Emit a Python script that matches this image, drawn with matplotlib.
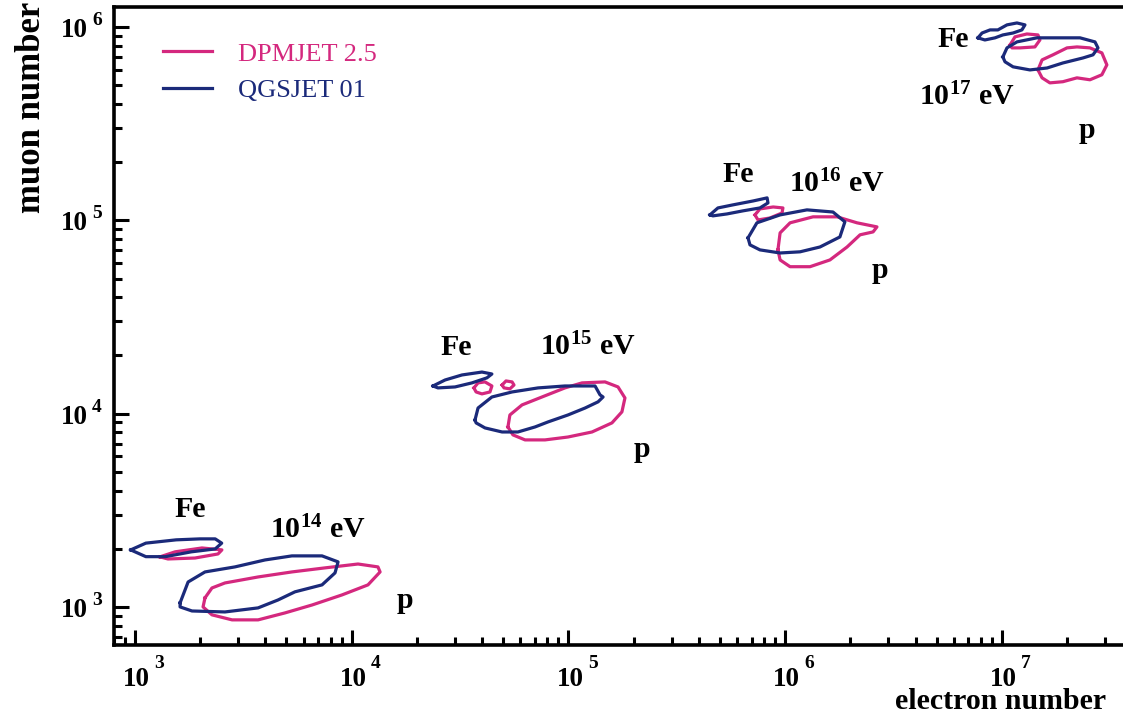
import numpy as np
import matplotlib
matplotlib.use("Agg")
import matplotlib.pyplot as plt
from matplotlib.ticker import LogLocator, NullFormatter

plt.rcParams['font.family'] = ['Liberation Serif', 'DejaVu Serif']
plt.rcParams['mathtext.fontset'] = 'custom'
plt.rcParams['mathtext.rm'] = 'Liberation Serif:bold'
plt.rcParams['mathtext.bf'] = 'Liberation Serif:bold'
plt.rcParams['mathtext.default'] = 'rm'

PINK = "#d4287e"
BLUE = "#1b2a7a"

# contour outlines, log10(electron number) / log10(muon number)
# --- 10^14 eV
qgs_fe14_x = [2.98, 3.05, 3.19, 3.30, 3.37, 3.40, 3.37, 3.26, 3.14, 3.05]
qgs_fe14_y = [3.295, 3.33, 3.347, 3.352, 3.352, 3.33, 3.30, 3.285, 3.26, 3.26]
dpm_fe14_x = [3.115, 3.185, 3.309, 3.401, 3.383, 3.277, 3.152]
dpm_fe14_y = [3.259, 3.285, 3.305, 3.295, 3.274, 3.253, 3.248]
qgs_p14_x = [3.208, 3.245, 3.323, 3.461, 3.600, 3.724, 3.863, 3.937, 3.923, 3.863,
             3.738, 3.660, 3.568, 3.415, 3.263, 3.208]
qgs_p14_y = [3.021, 3.129, 3.181, 3.207, 3.243, 3.264, 3.264, 3.233, 3.176, 3.114,
             3.078, 3.036, 2.995, 2.974, 2.979, 3.0]
dpm_p14_x = [3.323, 3.355, 3.415, 3.568, 3.724, 3.877, 4.029, 4.121, 4.131, 4.075,
             3.955, 3.817, 3.692, 3.568, 3.448, 3.355, 3.314]
dpm_p14_y = [3.047, 3.098, 3.124, 3.155, 3.181, 3.202, 3.222, 3.207, 3.181, 3.114,
             3.062, 3.010, 2.969, 2.933, 2.933, 2.959, 3.0]
# --- 10^15 eV
qgs_fe15_x = [4.375, 4.431, 4.509, 4.601, 4.647, 4.624, 4.555, 4.477, 4.398]
qgs_fe15_y = [4.143, 4.174, 4.200, 4.215, 4.205, 4.185, 4.159, 4.138, 4.133]
dpm_fe15a_x = [4.564, 4.583, 4.615, 4.647, 4.638, 4.601, 4.574]
dpm_fe15a_y = [4.133, 4.159, 4.164, 4.143, 4.112, 4.102, 4.112]
dpm_fe15b_x = [4.694, 4.712, 4.740, 4.749, 4.730, 4.703]
dpm_fe15b_y = [4.148, 4.169, 4.164, 4.148, 4.128, 4.133]
qgs_p15_x = [4.569, 4.583, 4.647, 4.740, 4.860, 4.984, 5.123, 5.146, 5.160, 5.137,
             5.077, 4.998, 4.906, 4.846, 4.767, 4.694, 4.615, 4.574]
qgs_p15_y = [3.967, 4.029, 4.086, 4.112, 4.133, 4.143, 4.143, 4.097, 4.086, 4.061,
             4.029, 3.993, 3.957, 3.931, 3.905, 3.905, 3.926, 3.952]
dpm_p15_x = [4.721, 4.730, 4.786, 4.878, 4.984, 5.063, 5.169, 5.229, 5.261, 5.247,
             5.201, 5.109, 4.998, 4.892, 4.800, 4.744]
dpm_p15_y = [3.931, 3.993, 4.045, 4.086, 4.133, 4.159, 4.164, 4.138, 4.081, 4.009,
             3.952, 3.905, 3.879, 3.864, 3.864, 3.890]
# --- 10^16 eV
qgs_fe16_x = [5.653, 5.690, 5.760, 5.852, 5.917, 5.921, 5.884, 5.806, 5.732, 5.667]
qgs_fe16_y = [5.028, 5.064, 5.080, 5.100, 5.116, 5.090, 5.064, 5.049, 5.033, 5.023]
dpm_fe16_x = [5.861, 5.884, 5.945, 5.990, 5.986, 5.930, 5.875]
dpm_fe16_y = [5.028, 5.059, 5.069, 5.064, 5.038, 5.012, 5.002]
qgs_p16_x = [5.829, 5.870, 5.977, 6.101, 6.221, 6.276, 6.253, 6.161, 6.069, 5.977,
             5.884, 5.838]
qgs_p16_y = [4.909, 4.987, 5.028, 5.054, 5.043, 4.992, 4.914, 4.862, 4.837, 4.831,
             4.847, 4.873]
dpm_p16_x = [5.967, 5.977, 6.023, 6.129, 6.240, 6.332, 6.424, 6.406, 6.346, 6.286,
             6.207, 6.115, 6.023, 5.977]
dpm_p16_y = [4.847, 4.935, 4.987, 5.018, 5.018, 4.987, 4.966, 4.940, 4.925, 4.862,
             4.795, 4.760, 4.760, 4.795]
# --- 10^17 eV
qgs_fe17_x = [6.890, 6.909, 6.946, 6.982, 7.024, 7.070, 7.107, 7.093, 7.052, 7.005,
              6.969, 6.922]
qgs_fe17_y = [5.944, 5.969, 5.985, 5.985, 6.011, 6.021, 6.011, 5.985, 5.969, 5.959,
              5.944, 5.933]
dpm_fe17_x = [7.038, 7.061, 7.116, 7.167, 7.176, 7.153, 7.084, 7.047]
dpm_fe17_y = [5.907, 5.949, 5.964, 5.959, 5.933, 5.897, 5.892, 5.892]
qgs_p17_x = [7.005, 7.024, 7.070, 7.162, 7.255, 7.361, 7.430, 7.444, 7.421, 7.375,
             7.282, 7.209, 7.130, 7.052, 7.015]
qgs_p17_y = [5.845, 5.892, 5.923, 5.944, 5.944, 5.944, 5.923, 5.892, 5.856, 5.840,
             5.814, 5.788, 5.778, 5.794, 5.820]
dpm_p17_x = [7.167, 7.186, 7.236, 7.301, 7.347, 7.407, 7.462, 7.485, 7.462, 7.407,
             7.347, 7.282, 7.222, 7.186]
dpm_p17_y = [5.778, 5.830, 5.856, 5.892, 5.897, 5.892, 5.866, 5.804, 5.753, 5.727,
             5.737, 5.717, 5.711, 5.737]

dpm_curves = [(dpm_fe14_x, dpm_fe14_y), (dpm_p14_x, dpm_p14_y),
              (dpm_fe15a_x, dpm_fe15a_y), (dpm_fe15b_x, dpm_fe15b_y), (dpm_p15_x, dpm_p15_y),
              (dpm_fe16_x, dpm_fe16_y), (dpm_p16_x, dpm_p16_y),
              (dpm_fe17_x, dpm_fe17_y), (dpm_p17_x, dpm_p17_y)]
qgs_curves = [(qgs_fe14_x, qgs_fe14_y), (qgs_p14_x, qgs_p14_y),
              (qgs_fe15_x, qgs_fe15_y), (qgs_p15_x, qgs_p15_y),
              (qgs_fe16_x, qgs_fe16_y), (qgs_p16_x, qgs_p16_y),
              (qgs_fe17_x, qgs_fe17_y), (qgs_p17_x, qgs_p17_y)]

# labels: (text, log10 x, log10 y)
labels = [("Fe", 3.254, 3.466), (r"$10^{14}$ eV", 3.845, 3.357), ("p", 4.246, 2.995),
          ("Fe", 4.481, 4.304), (r"$10^{15}$ eV", 5.090, 4.304), ("p", 5.340, 3.776),
          ("Fe", 5.783, 5.199), (r"$10^{16}$ eV", 6.240, 5.147), ("p", 6.438, 4.702),
          ("Fe", 6.775, 5.897), (r"$10^{17}$ eV", 6.839, 5.597), ("p", 7.393, 5.426)]

x_decades = [3, 4, 5, 6, 7]
y_decades = [3, 4, 5, 6]

W, H = 1123, 717
fig = plt.figure(figsize=(W / 100, H / 100), dpi=100)
ax = fig.add_axes([114 / W, (717 - 645) / H, 1018 / W, 638 / H])


def draw(curves, color, label):
    first = True
    for cx, cy in curves:
        cx = np.array(cx + [cx[0]])
        cy = np.array(cy + [cy[0]])
        ax.plot(10 ** cx, 10 ** cy, color=color, lw=2.3, solid_joinstyle='round',
                label=label if first else None)
        first = False


draw(dpm_curves, PINK, "DPMJET 2.5")
draw(qgs_curves, BLUE, "QGSJET 01")

for txt, lx, ly in labels:
    ax.text(10 ** lx, 10 ** ly, txt, ha='center', va='baseline', fontsize=21.5,
            fontweight='bold', color='black')

ax.set_xscale('log')
ax.set_yscale('log')
ax.set_xlim(10 ** 2.903, 10 ** 7.601)
ax.set_ylim(10 ** 2.803, 10 ** 6.1035)

for axis in (ax.xaxis, ax.yaxis):
    axis.set_major_locator(LogLocator(base=10, numticks=20))
    axis.set_minor_locator(LogLocator(base=10, subs=np.arange(2, 10), numticks=20))
    axis.set_major_formatter(NullFormatter())
    axis.set_minor_formatter(NullFormatter())

ax.tick_params(which='major', direction='in', length=11, width=2.2,
               top=False, right=False)
ax.tick_params(which='minor', direction='in', length=5.5, width=2.2, top=False, right=False)

# tick labels drawn as "10" with a raised exponent
for k in x_decades:
    ax.annotate("10", xy=(10 ** k, 0), xycoords=('data', 'axes fraction'),
                xytext=(10.8, -29.5), textcoords='offset points', ha='right',
                va='baseline', fontsize=19.5, fontweight='bold', annotation_clip=False)
    ax.annotate(str(k), xy=(10 ** k, 0), xycoords=('data', 'axes fraction'),
                xytext=(14.0, -16.5), textcoords='offset points', ha='left',
                va='baseline', fontsize=14, fontweight='bold', annotation_clip=False)
for k in y_decades:
    ax.annotate("10", xy=(0, 10 ** k), xycoords=('axes fraction', 'data'),
                xytext=(-18.7, -7.2), textcoords='offset points', ha='right',
                va='baseline', fontsize=19.5, fontweight='bold', annotation_clip=False)
    ax.annotate(str(k), xy=(0, 10 ** k), xycoords=('axes fraction', 'data'),
                xytext=(-15.8, 1.4), textcoords='offset points', ha='left',
                va='baseline', fontsize=14, fontweight='bold', annotation_clip=False)

for s in ['left', 'bottom', 'top']:
    ax.spines[s].set_linewidth(2.6)
ax.spines['right'].set_visible(False)

ax.set_ylabel("muon number", fontsize=25, fontweight='bold')
ax.yaxis.set_label_coords((48 - 114) / 1018, 0.842)
ax.set_xlabel("electron number", fontsize=21.5, fontweight='bold', ha='left', va='baseline')
ax.xaxis.set_label_coords((895 - 114) / 1018, (645 - 709) / 638)

leg = ax.legend(loc='upper left', bbox_to_anchor=(0.025, 0.982), frameon=False,
                handlelength=1.85, handletextpad=1.0, labelspacing=0.48,
                fontsize=19, labelcolor='linecolor')

fig.savefig("out.png", dpi=100)
